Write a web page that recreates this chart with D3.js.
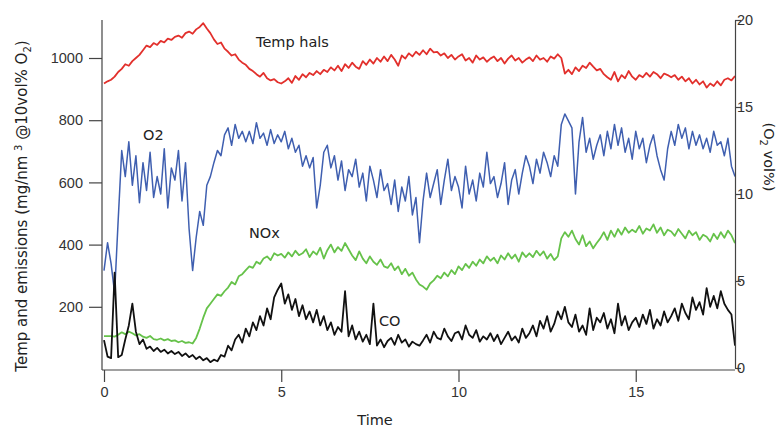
<!DOCTYPE html>
<html>
<head>
<meta charset="utf-8">
<script src="https://cdn.jsdelivr.net/npm/d3@7/dist/d3.min.js"></script>
<style>
  body { margin: 0; background: #fff; }
  svg { display: block; font-family: "DejaVu Sans", Verdana, sans-serif; }
  .axis path, .axis line { stroke: #444; stroke-width: 1.2px; }
  .axis text { fill: #333; font-size: 14.5px; }
  .label { fill: #222; font-size: 14.5px; }
  .series { fill: none; stroke-linejoin: round; }
</style>
</head>
<body>
<div id="chart"></div>
<script>

  /* -----------------------
      DATA (sampled every 0.1 time unit)
   -------------------------- */
  var timeStep = 0.1;
  var xTicks = [0, 5, 10, 15];
  var leftTicks = [200, 400, 600, 800, 1000];
  var rightTicks = [0, 5, 10, 15, 20];

  //-- TEMP HALS (left axis)
  var tempHals = [
    918, 925, 930, 940, 955, 965, 980, 975, 990, 1000,
    1010, 1025, 1040, 1035, 1048, 1042, 1055, 1050, 1062, 1058,
    1068, 1072, 1065, 1080, 1085, 1078, 1092, 1100, 1112, 1095,
    1080, 1060, 1045, 1050, 1030, 1020, 1008, 1012, 995, 985,
    978, 965, 958, 948, 940, 952, 935, 928, 932, 922,
    918, 925, 935, 920, 942, 930, 948, 938, 952, 945,
    958, 948, 962, 955, 970, 960, 975, 958, 980, 968,
    985, 972, 965, 990, 978, 995, 982, 1000, 988, 1005,
    990, 1010, 995, 975, 1008, 998, 1015, 1005, 1020, 1010,
    1025, 1012, 1030, 1018, 1020, 1008, 1015, 1000, 1010, 995,
    1005, 1012, 992, 1000, 985, 1008, 995, 1002, 988, 998,
    1005, 990, 1000, 982, 998, 1008, 992, 1000, 985, 995,
    1002, 990, 1008, 995, 1000, 988, 1005, 998, 1012, 1000,
    950, 962, 948, 970, 958, 975, 968, 985, 972, 960,
    965, 948, 938, 930, 955, 925, 945, 935, 958, 940,
    930, 945, 938, 952, 940, 955, 948, 935, 950, 945,
    938, 945, 930, 940, 925, 935, 918, 930, 915, 925,
    905, 918, 910, 925, 912, 930, 935, 928, 942
  ];

  //-- O2 (right axis, vol%)
  var o2 = [
    5.6, 7.2, 6.0, 4.3, 8.5, 12.5, 11.0, 13.0, 10.5, 12.2,
    9.5, 11.8, 10.2, 12.4, 9.8, 11.0, 10.0, 12.6, 9.2, 11.5,
    10.8, 12.5, 9.6, 11.8, 8.0, 5.6, 7.5, 9.0, 8.2, 10.5,
    11.0, 11.8, 12.5, 12.2, 13.4, 13.8, 12.8, 14.0, 13.2, 13.6,
    13.0, 13.6, 12.9, 14.1, 13.2, 13.5, 12.8, 13.7, 12.9, 13.4,
    13.0, 13.6, 12.6, 13.2, 12.4, 12.8, 11.6, 12.2, 11.5, 12.1,
    9.2, 10.5, 12.4, 12.8, 11.5, 12.2, 10.8, 11.9, 10.2, 11.4,
    11.0, 12.0, 10.4, 11.2, 9.6, 11.6, 10.8, 9.8, 11.4, 10.2,
    10.6, 9.4, 10.8, 9.0, 10.4, 9.6, 11.0, 8.8, 9.8, 7.2,
    9.6, 11.2, 9.8, 10.6, 11.4, 9.4, 10.8, 12.0, 10.2, 11.0,
    10.4, 9.2, 11.6, 10.0, 10.8, 9.6, 11.2, 10.4, 12.4, 10.6,
    11.0, 9.8, 10.6, 11.8, 9.4, 10.8, 11.4, 10.0, 11.2, 12.2,
    11.6, 10.6, 12.0, 11.2, 12.4, 11.8, 11.0, 12.2, 11.6, 14.0,
    14.6, 14.2, 13.8, 10.0, 13.0, 14.4, 12.4, 13.2, 12.0, 12.8,
    13.4, 12.2, 13.6, 12.6, 14.0, 12.8, 13.8, 12.4, 13.2, 12.0,
    13.6, 12.6, 13.2, 11.8, 12.8, 13.4, 12.2, 11.4, 10.8, 12.6,
    13.6, 12.8, 14.0, 13.2, 13.8, 12.6, 13.6, 12.8, 13.4, 12.6,
    13.2, 12.4, 13.6, 12.8, 13.0, 12.2, 13.2, 11.6, 11.0
  ];

  //-- NOX (left axis)
  var nox = [
    106, 106, 106, 104, 110, 118, 112, 120, 115, 108,
    112, 104, 100, 106, 96, 94, 98, 92, 96, 90,
    92, 86, 90, 84, 86, 82, 100, 130, 165, 195,
    210, 225, 240, 235, 250, 262, 280, 272, 298, 305,
    318, 330, 325, 345, 338, 355, 362, 350, 372, 365,
    370, 358, 375, 362, 380, 366, 372, 385, 360, 378,
    368, 390, 355, 382, 400, 375, 392, 380, 405, 385,
    365, 350, 378, 355, 340, 362, 345, 335, 352, 330,
    325, 340, 318, 330, 305, 322, 300, 310, 288, 272,
    265, 255, 275, 285, 300, 292, 310, 298, 318, 305,
    330, 318, 338, 325, 345, 332, 352, 340, 362, 348,
    358, 340, 365, 352, 372, 355, 368, 345, 375, 360,
    372, 360, 380, 365, 378, 355, 370, 350, 362, 420,
    440, 425, 445, 418, 400, 430, 395, 410, 388, 405,
    420, 440, 415, 445, 425, 450, 432, 455, 438, 448,
    440, 460, 435, 452, 445, 465, 438, 455, 430, 448,
    442, 428, 450, 435, 420, 445, 430, 440, 415, 432,
    425, 410, 435, 418, 440, 422, 445, 430, 405
  ];

  //-- CO (left axis)
  var co = [
    93, 40, 35, 310, 38, 45, 95, 140, 210, 120,
    80, 95, 65, 72, 58, 68, 55, 62, 50, 58,
    48, 55, 42, 50, 38, 45, 32, 40, 28, 35,
    22, 30, 25, 45, 40, 75, 60, 95, 110, 85,
    130, 105, 150, 125, 170, 140, 195, 160, 230, 255,
    275, 210, 240, 190, 225, 170, 205, 160, 185, 150,
    190, 140, 170, 125, 150, 110, 135, 120, 250, 105,
    140, 95, 120, 88, 110, 80, 210, 75, 95, 70,
    90, 100, 78, 110, 85, 95, 72, 88, 80, 75,
    92, 110, 85, 120, 100, 95, 130, 105, 90, 115,
    120, 95, 140, 110, 100, 125, 88, 105, 95, 115,
    90, 110, 80, 100, 120, 92, 105, 85, 130, 100,
    115, 140, 105, 155, 130, 170, 120, 145, 185, 160,
    200, 150, 135, 175, 120, 140, 110, 195, 125, 165,
    150, 180, 130, 160, 115, 210, 140, 170, 125, 150,
    165, 135, 175, 145, 190, 130, 160, 140, 185, 150,
    170, 195, 155, 210, 180, 160, 230, 190, 215, 175,
    260, 200, 235, 195, 250, 210, 190, 175, 75
  ];

  /* -----------------------
      SVG + SCALES
   -------------------------- */
  var svgWidth = 776,
    svgHeight = 428;

  var svg = d3.select('#chart').append('svg')
    .attr('width', svgWidth)
    .attr('height', svgHeight);

  var scaleX = d3.scaleLinear().domain([0, 17.8]).range([104, 735]);
  var scaleY = d3.scaleLinear().domain([0, 1000]).range([369, 58]);
  var scaleY2 = d3.scaleLinear().domain([0, 20]).range([368, 20]);

  /* -----------------------
      LINES
   -------------------------- */
  function drawSeries(values, yScale, color, width) {
    var line = d3.line()
      .x(function(d, i) { return scaleX(i * timeStep); })
      .y(function(d) { return yScale(d); });

    svg.append('path')
      .datum(values)
      .attr('class', 'series')
      .attr('stroke', color)
      .attr('stroke-width', width)
      .attr('d', line);
  }

  drawSeries(tempHals, scaleY, '#e2302c', 1.8);
  drawSeries(o2, scaleY2, '#3f5fb0', 1.5);
  drawSeries(nox, scaleY, '#66c24a', 1.8);
  drawSeries(co, scaleY, '#111', 1.8);

  /* -----------------------
      AXES
   -------------------------- */
  //-- LEFT
  var axisLeft = svg.append('g')
    .attr('class', 'axis')
    .attr('transform', 'translate(102,0)')
    .call(d3.axisLeft(scaleY).tickValues(leftTicks).tickFormat(d3.format('d'))
      .tickSize(13).tickPadding(6).tickSizeOuter(0));
  axisLeft.select('.domain').attr('d', 'M0,20V370');

  //-- BOTTOM
  var axisBottom = svg.append('g')
    .attr('class', 'axis')
    .attr('transform', 'translate(0,370)')
    .call(d3.axisBottom(scaleX).tickValues(xTicks).tickSize(12).tickPadding(5).tickSizeOuter(0));
  axisBottom.select('.domain').attr('d', 'M102,0H735');

  //-- RIGHT
  var axisRight = svg.append('g')
    .attr('class', 'axis')
    .attr('transform', 'translate(735,0)')
    .call(d3.axisRight(scaleY2).tickValues(rightTicks).tickSize(6).tickPadding(-4).tickSizeOuter(0));

  /* -----------------------
      TITLES + SERIES LABELS
   -------------------------- */
  svg.append('text')
    .attr('class', 'label')
    .attr('x', 375).attr('y', 425)
    .attr('text-anchor', 'middle')
    .text('Time');

  var yTitle = svg.append('text')
    .attr('class', 'label')
    .attr('font-size', 15)
    .style('font-size', '15px')
    .attr('transform', 'translate(27,206) rotate(-90)')
    .attr('text-anchor', 'middle');
  yTitle.append('tspan').text('Temp and emissions (mg/nm ');
  yTitle.append('tspan').attr('dy', -5).style('font-size', '10px').text('3');
  yTitle.append('tspan').attr('dy', 5).text(' @10vol% O');
  yTitle.append('tspan').attr('dy', 4).style('font-size', '10px').text('2');
  yTitle.append('tspan').attr('dy', -4).text(')');

  var y2Title = svg.append('text')
    .attr('class', 'label')
    .attr('transform', 'translate(764,157) rotate(90)')
    .attr('text-anchor', 'middle');
  y2Title.append('tspan').text('(O');
  y2Title.append('tspan').attr('dy', 4).style('font-size', '10px').text('2');
  y2Title.append('tspan').attr('dy', -4).text(' vol%)');

  var seriesLabels = [
    { text: 'Temp hals', x: 256, y: 47 },
    { text: 'O2', x: 143, y: 140 },
    { text: 'NOx', x: 249, y: 238 },
    { text: 'CO', x: 379, y: 326 }
  ];

  svg.selectAll('.series-label')
    .data(seriesLabels)
    .enter().append('text')
    .attr('class', 'label series-label')
    .attr('x', function(d) { return d.x; })
    .attr('y', function(d) { return d.y; })
    .text(function(d) { return d.text; });

</script>
</body>
</html>
